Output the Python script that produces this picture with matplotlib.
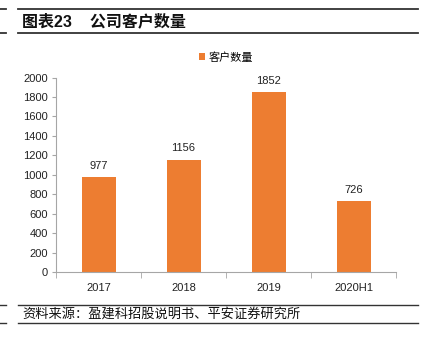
import matplotlib.pyplot as plt
import numpy as np

plt.rcParams['font.family'] = ['Liberation Sans', 'Noto Sans CJK SC', 'DejaVu Sans']

categories = ["2017", "2018", "2019", "2020H1"]
customers = [977, 1156, 1852, 726]
yticks = [0, 200, 400, 600, 800, 1000, 1200, 1400, 1600, 1800, 2000]

bar_color = "#ED7D31"
axis_color = "#A6A6A6"

fig = plt.figure(figsize=(4.23, 3.46), dpi=100)

# header / footer rules
def hline(y, x0, x1, lw):
    fig.add_artist(plt.Line2D([x0 / 423, x1 / 423], [1 - y / 346, 1 - y / 346],
                              color="#333333", lw=lw))

hline(9, 0, 6, 1.3)
hline(9, 18, 418, 1.3)
hline(33, 0, 6, 1.3)
hline(33, 18, 418, 1.3)
hline(305, 0, 6, 1.0)
hline(305, 18, 418, 1.0)
hline(323, 0, 6, 1.0)
hline(323, 18, 418, 1.0)

fig.text(22 / 423, 1 - 21 / 346, "图表23    公司客户数量", fontsize=11.5,
         fontweight="bold", va="center", ha="left", color="#111111")
fig.text(22 / 423, 1 - 314 / 346, "资料来源：盈建科招股说明书、平安证券研究所",
         fontsize=9.5, style="italic", va="center", ha="left", color="#111111",
         family=['Noto Sans CJK SC', 'DejaVu Sans'])

ax = fig.add_axes([56 / 423, 74 / 346, 340 / 423, 194.4 / 346])
x = np.arange(len(categories))
bars = ax.bar(x, customers, width=0.4, color=bar_color, label="客户数量")
for xi, v in zip(x, customers):
    ax.text(xi, v + 65, str(v), ha="center", va="bottom", fontsize=8, color="#222222")

ax.set_xlim(-0.5, len(categories) - 0.5)
ax.set_ylim(0, 2000)
ax.set_yticks(yticks)
ax.tick_params(axis="y", labelsize=8, length=3, color=axis_color, labelcolor="#222222", pad=3)
ax.set_xticks(x)
ax.set_xticklabels(categories)
ax.set_xticks(np.arange(-0.5, len(categories)), minor=True)
ax.tick_params(axis="x", which="major", length=0, labelsize=8, labelcolor="#222222", pad=8)
ax.tick_params(axis="x", which="minor", length=4, color=axis_color)
for s in ["top", "right"]:
    ax.spines[s].set_visible(False)
ax.spines["left"].set_color(axis_color)
ax.spines["bottom"].set_color(axis_color)

ax.legend(loc="center", bbox_to_anchor=(0.5, 1.105), frameon=False, fontsize=8,
          handlelength=0.6, handleheight=0.6, handletextpad=0.3)

fig.savefig("out.png", dpi=100)
